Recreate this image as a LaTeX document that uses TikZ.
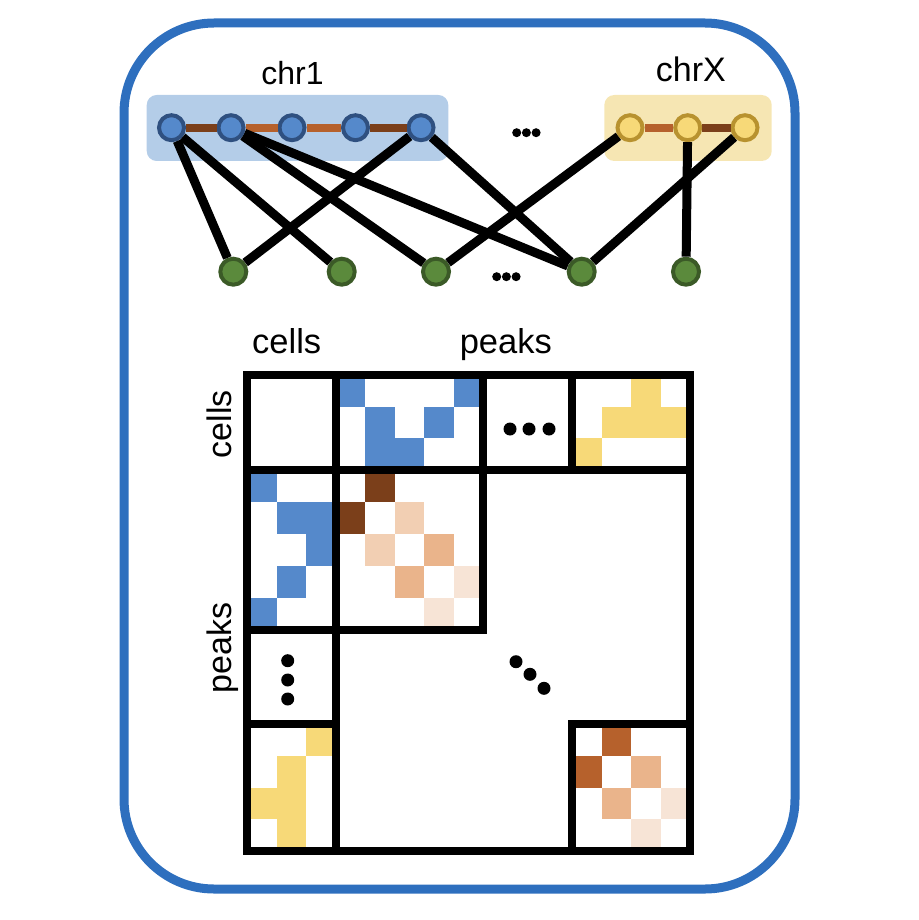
\documentclass[tikz,border=0pt]{standalone}
\usepackage{fontspec}
\setmainfont{Liberation Sans}
\definecolor{frameblue}{HTML}{2E6FBE}
\definecolor{cellblue}{HTML}{5589CB}
\definecolor{nodeblueb}{HTML}{2F5080}
\definecolor{chrbluebg}{HTML}{B4CDE8}
\definecolor{chryellowbg}{HTML}{F6E6B3}
\definecolor{cellyellow}{HTML}{F7D978}
\definecolor{yellowb}{HTML}{B8922F}
\definecolor{greenf}{HTML}{5B8A3C}
\definecolor{greenb}{HTML}{3B5A27}
\definecolor{darkbrown}{HTML}{7B3F1A}
\definecolor{midbrown}{HTML}{B6612C}
\definecolor{peachmed}{HTML}{EAB48B}
\definecolor{peachlight}{HTML}{F2CFB3}
\definecolor{peachvlight}{HTML}{F7E4D6}
\newcommand\setblk[4]{\def\mbx{#1}\def\mby{#2}\def\mbw{#3}\def\mbh{#4}}
\newcommand\mcellf[3]{\fill[#3] ({\mbx+(#1-1)*\mbw},{\mby+(#2-1)*\mbh}) rectangle ++(\mbw,\mbh);}
\begin{document}
\begin{tikzpicture}[x=1pt,y=-1pt,
  lbl/.style={font=\fontsize{32}{38}\selectfont, inner sep=0pt, outer sep=0pt},
  mlbl/.style={font=\fontsize{34.5}{40}\selectfont, inner sep=0pt, outer sep=0pt},
  bnode/.style={circle, minimum size=25pt, inner sep=0pt, line width=4pt, draw=nodeblueb, fill=cellblue},
  ynode/.style={circle, minimum size=25pt, inner sep=0pt, line width=4pt, draw=yellowb, fill=cellyellow},
  gnode/.style={circle, minimum size=26pt, inner sep=0pt, line width=4pt, draw=greenb, fill=greenf},
  edge/.style={line width=9pt, draw=black},
  chaind/.style={line width=8pt, draw=darkbrown},
  chaino/.style={line width=8pt, draw=midbrown},
  gridline/.style={line width=8pt, draw=black, line join=miter}]
\useasboundingbox (0,0) rectangle (918,920);
% outer frame
\draw[line width=9pt, draw=frameblue, rounded corners=90pt] (124,23) rectangle (795,889);

% chromosome groups
\fill[chrbluebg, rounded corners=10pt] (146.7,95) rectangle (448.3,161);
\fill[chryellowbg, rounded corners=10pt] (604.3,95) rectangle (771.7,161);
\node[lbl, anchor=base] (lchr1) at (292.5,85) {chr1};
\node[lbl, anchor=base, font=\fontsize{34}{40}\selectfont] (lchrx) at (690.8,82) {chrX};

% nodes
\node[bnode] (b1) at (171.5,127.7) {};
\node[bnode] (b2) at (231,127.7) {};
\node[bnode] (b3) at (292,127.7) {};
\node[bnode] (b4) at (355.5,127.7) {};
\node[bnode] (b5) at (421,127.7) {};
\node[ynode] (y1) at (630,127.7) {};
\node[ynode] (y2) at (687.7,127.7) {};
\node[ynode] (y3) at (745,127.7) {};
\node[gnode] (g1) at (233.3,271.7) {};
\node[gnode] (g2) at (341.7,271.7) {};
\node[gnode] (g3) at (436,271.7) {};
\node[gnode] (g4) at (581.7,271.7) {};
\node[gnode] (g5) at (686,271.7) {};

% chains
\draw[chaind] (b1) -- (b2);
\draw[chaino] (b2) -- (b3);
\draw[chaino] (b3) -- (b4);
\draw[chaind] (b4) -- (b5);
\draw[chaino] (y1) -- (y2);
\draw[chaind] (y2) -- (y3);

% links
\draw[edge] (b1) -- (g1);
\draw[edge] (b1) -- (g2);
\draw[edge] (b2) -- (g3);
\draw[edge] (b2) -- (g4);
\draw[edge] (b5) -- (g1);
\draw[edge] (b5) -- (g4);
\draw[edge] (y1) -- (g3);
\draw[edge] (y2) -- (g5);
\draw[edge] (y3) -- (g4);

% ellipses in graph
\foreach \xx in {516.7,526.4,536.1} \fill (\xx,132.7) circle (4.5pt);
\foreach \xx in {496.7,506.4,516.1} \fill (\xx,276.7) circle (4.5pt);

% matrix labels
\node[mlbl, anchor=base] (lcellsh) at (286.7,353.3) {cells};
\node[mlbl, anchor=base] (lpeaksh) at (505.8,353.3) {peaks};
\node[mlbl, anchor=base, rotate=90, font=\fontsize{34}{40}\selectfont] (lcellsv) at (231,424) {cells};
\node[mlbl, anchor=base, rotate=90, font=\fontsize{34}{40}\selectfont] (lpeaksv) at (231,648) {peaks};

% block cells x chr1
\setblk{336}{375}{29.4}{31.667}
\mcellf{1}{1}{cellblue}\mcellf{5}{1}{cellblue}
\mcellf{2}{2}{cellblue}\mcellf{4}{2}{cellblue}
\mcellf{2}{3}{cellblue}\mcellf{3}{3}{cellblue}
% block cells x chrX
\setblk{572}{375}{29.5}{31.667}
\mcellf{3}{1}{cellyellow}
\mcellf{2}{2}{cellyellow}\mcellf{3}{2}{cellyellow}\mcellf{4}{2}{cellyellow}
\mcellf{1}{3}{cellyellow}
% block chr1 x cells
\setblk{247}{470}{29.667}{32}
\mcellf{1}{1}{cellblue}
\mcellf{2}{2}{cellblue}\mcellf{3}{2}{cellblue}
\mcellf{3}{3}{cellblue}
\mcellf{2}{4}{cellblue}
\mcellf{1}{5}{cellblue}
% block chr1 x chr1
\setblk{336}{470}{29.4}{32}
\mcellf{2}{1}{darkbrown}
\mcellf{1}{2}{darkbrown}\mcellf{3}{2}{peachlight}
\mcellf{2}{3}{peachlight}\mcellf{4}{3}{peachmed}
\mcellf{3}{4}{peachmed}\mcellf{5}{4}{peachvlight}
\mcellf{4}{5}{peachvlight}
% block chrX x cells
\setblk{247}{724}{29.667}{31.75}
\mcellf{3}{1}{cellyellow}
\mcellf{2}{2}{cellyellow}
\mcellf{1}{3}{cellyellow}\mcellf{2}{3}{cellyellow}
\mcellf{2}{4}{cellyellow}
% block chrX x chrX
\setblk{572}{724}{29.5}{31.75}
\mcellf{2}{1}{midbrown}
\mcellf{1}{2}{midbrown}\mcellf{3}{2}{peachmed}
\mcellf{2}{3}{peachmed}\mcellf{4}{3}{peachvlight}
\mcellf{3}{4}{peachvlight}

% matrix grid
\draw[gridline] (247,375) rectangle (690,851);
\draw[gridline] (336,375) -- (336,851);
\draw[gridline] (247,470) -- (690,470);
\draw[gridline] (483,375) -- (483,630) -- (247,630);
\draw[gridline] (572,375) -- (572,470);
\draw[gridline] (247,724) -- (336,724);
\draw[gridline] (572,851) -- (572,724) -- (690,724);

% matrix ellipses
\foreach \xx in {510,529,549} \fill (\xx,429) circle (6.5pt);
\foreach \yy in {660.7,680,699} \fill (287.7,\yy) circle (6.5pt);
\fill (516,661.7) circle (6.5pt);
\fill (530,674.3) circle (6.5pt);
\fill (544,688.3) circle (6.5pt);
\end{tikzpicture}
\end{document}
